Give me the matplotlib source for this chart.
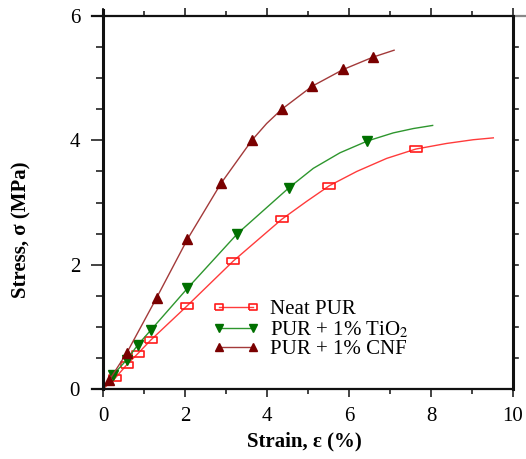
import matplotlib
matplotlib.use("Agg")
import matplotlib.pyplot as plt
from matplotlib.lines import Line2D
from matplotlib.ticker import MultipleLocator

plt.rcParams['font.family'] = ['Liberation Serif', 'DejaVu Serif']
plt.rcParams['mathtext.fontset'] = 'stix'

# strain (%) / stress (MPa); *_mark flags the points that carry a marker
neat_x = [0.0, 0.29, 0.58, 0.85, 1.17, 2.04, 3.18, 4.36, 4.97, 5.52, 6.19, 6.92, 7.63, 8.38, 9.03, 9.52]
neat_y = [0.0, 0.17, 0.39, 0.57, 0.79, 1.33, 2.06, 2.73, 3.02, 3.27, 3.50, 3.71, 3.86, 3.95, 4.01, 4.04]
neat_mark = [0, 1, 1, 1, 1, 1, 1, 1, 0, 1, 0, 0, 1, 0, 0, 0]

tio2_x = [0.0, 0.25, 0.58, 0.85, 1.17, 2.06, 3.28, 4.54, 5.13, 5.78, 6.45, 7.08, 7.57, 8.04]
tio2_y = [0.0, 0.23, 0.47, 0.71, 0.95, 1.62, 2.50, 3.24, 3.55, 3.80, 3.99, 4.12, 4.19, 4.24]
tio2_mark = [0, 1, 1, 1, 1, 1, 1, 1, 0, 0, 1, 0, 0, 0]

cnf_x = [0.0, 0.15, 0.58, 1.31, 2.06, 2.88, 3.63, 3.99, 4.36, 5.10, 5.86, 6.59, 7.10]
cnf_y = [0.0, 0.14, 0.58, 1.47, 2.41, 3.31, 4.00, 4.27, 4.50, 4.87, 5.14, 5.34, 5.45]
cnf_mark = [0, 1, 1, 1, 1, 1, 1, 0, 1, 1, 1, 1, 0]

labels = ['Neat PUR', 'PUR + 1% TiO$_2$', 'PUR + 1% CNF']

rect = [(-1, -0.62), (1, -0.62), (1, 0.62), (-1, 0.62), (-1, -0.62)]
styles = [
    dict(line='#ff3b3b', marker=rect, ms=8, mfc='none', mec='#ff1a1a', mew=1.2),
    dict(line='#2e962e', marker='v', ms=7, mfc='#007000', mec='#007000', mew=1.0),
    dict(line='#a33a3a', marker='^', ms=7, mfc='#7a0000', mec='#7a0000', mew=1.0),
]

fig = plt.figure(figsize=(5.26, 4.59), dpi=100)
ax = fig.add_axes([0.1958, 0.1525, 0.7795, 0.8126])

handles = []
for (xs, ys, mk), st, lab in zip([(neat_x, neat_y, neat_mark),
                                   (tio2_x, tio2_y, tio2_mark),
                                   (cnf_x, cnf_y, cnf_mark)], styles, labels):
    ax.plot(xs, ys, color=st['line'], lw=1.0)
    mx = [x for x, m in zip(xs, mk) if m]
    my = [y for y, m in zip(ys, mk) if m]
    ax.plot(mx, my, ls='none', marker=st['marker'], ms=st['ms'], mfc=st['mfc'],
            mec=st['mec'], mew=st['mew'])
    handles.append(Line2D([], [], color=st['line'], lw=1.0, marker=st['marker'],
                          ms=st['ms'] * 0.8, mfc=st['mfc'], mec=st['mec'], mew=st['mew'],
                          label=lab))

ax.set_xlim(0, 10)
ax.set_ylim(0, 6)
ax.xaxis.set_major_locator(MultipleLocator(2))
ax.xaxis.set_minor_locator(MultipleLocator(1))
ax.yaxis.set_major_locator(MultipleLocator(2))
ax.yaxis.set_minor_locator(MultipleLocator(0.5))

ax.tick_params(which='both', direction='out', top=True, right=False, labelsize=15,
               width=1.2, color='#222222')
ax.tick_params(which='major', length=6)
ax.tick_params(which='minor', length=3.5)
ax.tick_params(axis='y', which='major', length=8.5, pad=8)
ax.tick_params(axis='y', which='minor', length=5)
ax.tick_params(axis='x', which='major', pad=7)

# right side has ticks every 0.5 of equal length
for i in range(1, 12):
    yv = i / 12
    ax.plot([1.0, 1.012], [yv, yv], transform=ax.transAxes, color='#222222',
            lw=1.2, clip_on=False)

for s in ax.spines.values():
    s.set_linewidth(1.6)
    s.set_color('#111111')
ax.spines['left'].set_linewidth(2.2)
ax.spines['right'].set_linewidth(2.2)

# spine overhangs
ax.plot([-0.027, 0], [1, 1], transform=ax.transAxes, color='#111111', lw=1.6, clip_on=False)
ax.plot([1, 1.03], [1, 1], transform=ax.transAxes, color='#888888', lw=1.6, clip_on=False)
ax.plot([0, 0], [1, 1.017], transform=ax.transAxes, color='#111111', lw=2.2, clip_on=False)
ax.plot([-0.027, 0], [0, 0], transform=ax.transAxes, color='#111111', lw=1.6, clip_on=False)

ax.set_xlabel('Strain, ε (%)', fontsize=15, fontweight='bold')
ax.xaxis.set_label_coords(0.49, -0.115)
ax.set_ylabel('Stress, σ (MPa)', fontsize=15, fontweight='bold')
ax.yaxis.set_label_coords(-0.175, 0.426)

ax.legend(handles=handles, loc='lower left', bbox_to_anchor=(0.233, 0.04), frameon=False,
          fontsize=15, numpoints=2, handlelength=2.2, handletextpad=0.55,
          labelspacing=0.0, borderpad=0.2)

fig.savefig('out.png', dpi=100)
